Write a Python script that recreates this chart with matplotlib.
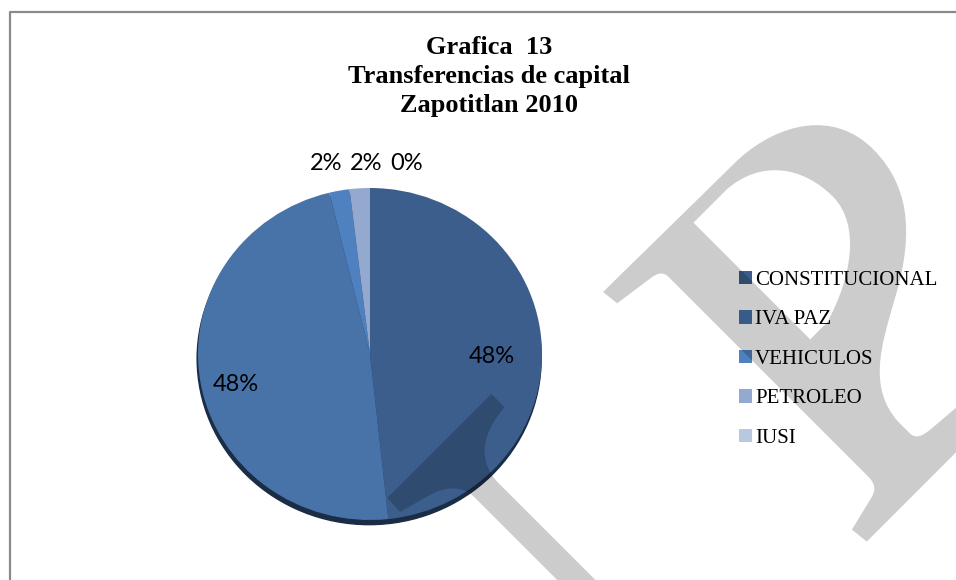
import numpy as np
import matplotlib
matplotlib.use('Agg')
import matplotlib.pyplot as plt
from matplotlib.patches import Patch, Ellipse, PathPatch
from matplotlib.path import Path

# data
categories = ['CONSTITUCIONAL', 'IVA PAZ', 'VEHICULOS', 'PETROLEO', 'IUSI']
values = [48.3, 47.9, 1.9, 1.9, 0.0]
colors = ['#3c5e8d', '#4773a9', '#4f80c0', '#93a9cf', '#b9c7e1']
title = 'Grafica  13\nTransferencias de capital\nZapotitlan 2010'

W, H = 956, 580
fig = plt.figure(figsize=(W / 100, H / 100), dpi=100)
fig.patch.set_facecolor('white')

# pie axes (slightly squashed like the excel 3d-ish pie)
ax = fig.add_axes([198 / W, 60 / H, 344 / W, 332 / H])
shadow = Ellipse((-0.005, -0.028), 2, 2, color='#1b2c45', zorder=0, clip_on=False)
ax.add_patch(shadow)
wedges, _ = ax.pie(values, colors=colors, startangle=90, counterclock=False,
                   wedgeprops=dict(linewidth=0, zorder=1))
ax.set_aspect('auto')
ax.set_xlim(-1, 1)
ax.set_ylim(-1, 1)
ax.axis('off')

pct_font = dict(family=['Lato', 'DejaVu Sans'], size=17, color='black')
small_x = [-0.255, -0.02, 0.215]
k = 0
for w, v in zip(wedges, values):
    lab = f'{round(v)}%'
    if v >= 10:
        ang = np.deg2rad((w.theta1 + w.theta2) / 2)
        r = 0.71 if np.cos(ang) > 0 else 0.79
        ax.text(r * np.cos(ang), r * np.sin(ang) - 0.05, lab,
                ha='center', va='center', **pct_font)
    else:
        ax.text(small_x[k], 1.15, lab, ha='center', va='center', clip_on=False, **pct_font)
        k += 1

fig.text(489 / W, 1 - 36 / H, title, ha='center', va='top',
         family='Liberation Serif', weight='bold', fontsize=19, linespacing=1.32)

handles = [Patch(facecolor=c, edgecolor='none') for c in colors]
fig.legend(handles, categories, loc='upper left', bbox_to_anchor=(739 / W, 1 - 271 / H),
           frameon=False, prop=dict(family='Liberation Serif', size=15),
           handlelength=0.6, handleheight=0.6, handletextpad=0.18,
           labelspacing=0.98, borderaxespad=0, borderpad=0)

# overlay: border + watermark
ov = fig.add_axes([0, 0, 1, 1], zorder=10)
ov.set_xlim(0, W)
ov.set_ylim(H, 0)
ov.axis('off')
ov.plot([10, 10, W + 5], [H + 5, 12, 12], color='#8a8a8a', lw=1.6)

O = np.array([603, 292])
def uv(pts):
    pts = np.array(pts, float)
    x = O[0] + (pts[:, 0] + pts[:, 1]) / np.sqrt(2)
    y = O[1] + (pts[:, 1] - pts[:, 0]) / np.sqrt(2)
    return np.column_stack([x, y])

M, L, C, Z = Path.MOVETO, Path.LINETO, Path.CURVE4, Path.CLOSEPOLY
p_outer = [((0, 0), M), ((190, 2), L),
           ((245, 5), C), ((292, 35), C), ((292, 90), C),
           ((292, 150), C), ((250, 185), C), ((200, 212), C),
           ((158, 235), C), ((120, 255), C), ((117, 300), C),
           ((117, 318), L),
           ((118, 326), C), ((125, 328), C), ((137, 329), C),
           ((200, 334), L), ((200, 363), L), ((10, 363), L), ((8, 344), L),
           ((45, 335), L),
           ((53, 333), C), ((57, 328), C), ((57, 318), C),
           ((57, 36), L),
           ((57, 28), C), ((52, 25), C), ((44, 24), C),
           ((2, 18), L), ((0, 0), Z)]
p_hole = [((113, 15), M), ((113, 180), L), ((137, 180), L),
          ((185, 166), C), ((230, 135), C), ((230, 95), C),
          ((230, 52), C), ((205, 18), C), ((160, 15), C),
          ((113, 15), Z)]
t_shape = [((-298, -7), M), ((-151, -7), L), ((-151, 12), L),
           ((-185, 14), C), ((-209, 30), C), ((-209, 62), C),
           ((-209, 430), L), ((-236, 430), L), ((-236, 55), L),
           ((-236, 36), C), ((-250, 25), C), ((-270, 20), C),
           ((-299, 12), L), ((-298, -7), Z)]

for parts in [[p_outer, p_hole], [t_shape]]:
    verts, codes = [], []
    for part in parts:
        verts += [p for p, _ in part]
        codes += [c for _, c in part]
    path = Path(uv(verts), codes)
    ov.add_patch(PathPatch(path, facecolor='black', alpha=0.2, edgecolor='none'))

fig.savefig('out.png', dpi=100, facecolor='white')
